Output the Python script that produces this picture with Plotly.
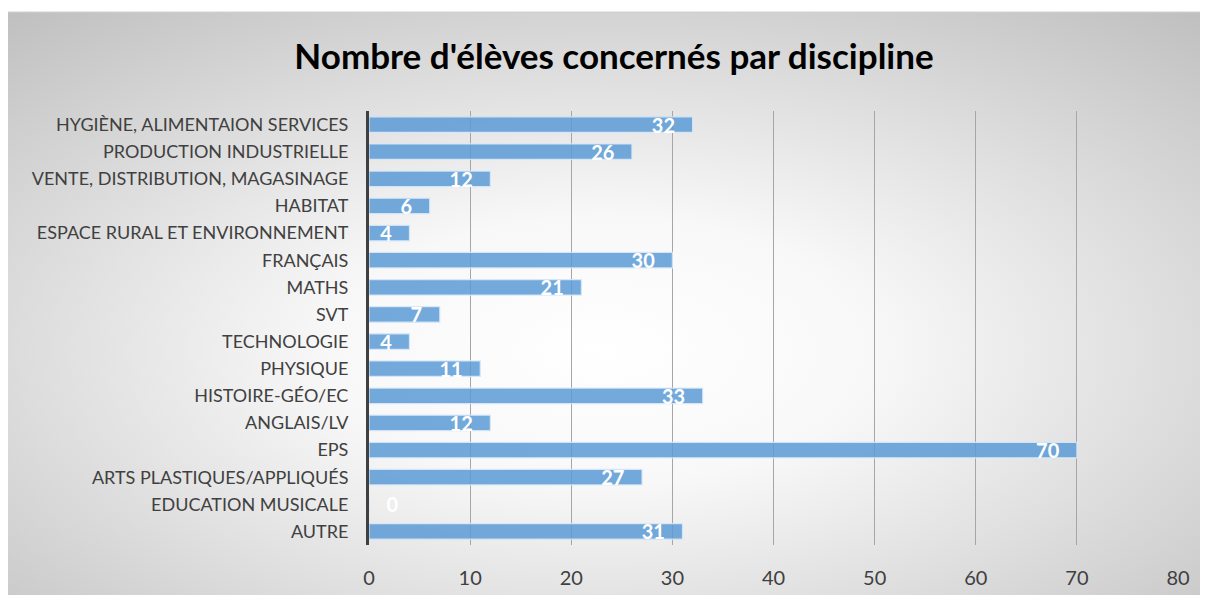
import base64
import plotly.graph_objects as go

# données (ordre de haut en bas)
categories = [
    "HYGIÈNE, ALIMENTAION SERVICES", "PRODUCTION INDUSTRIELLE",
    "VENTE, DISTRIBUTION, MAGASINAGE", "HABITAT",
    "ESPACE RURAL ET ENVIRONNEMENT", "FRANÇAIS", "MATHS", "SVT",
    "TECHNOLOGIE", "PHYSIQUE", "HISTOIRE-GÉO/EC", "ANGLAIS/LV", "EPS",
    "ARTS PLASTIQUES/APPLIQUÉS", "EDUCATION MUSICALE", "AUTRE",
]
values = [32, 26, 12, 6, 4, 30, 21, 7, 4, 11, 33, 12, 70, 27, 0, 31]
x_ticks = [0, 10, 20, 30, 40, 50, 60, 70, 80]

# la page ajoute 8px de marge au body -> figure un peu plus petite
W, H = 1201, 589
L, R, T, B = 361, 31, 103, 52
PW, PH = W - L - R, H - T - B
FONT = "Lato"

# fond en dégradé radial (blanc au centre, gris sur les bords)
svg = (
    '<svg xmlns="http://www.w3.org/2000/svg" width="1192" height="583" '
    'preserveAspectRatio="none" viewBox="0 0 1192 583">'
    '<defs><radialGradient id="g" cx="50%" cy="58%" r="76%">'
    '<stop offset="0" stop-color="#ffffff"/>'
    '<stop offset="0.3" stop-color="#f8f8f8"/>'
    '<stop offset="1" stop-color="#c0c0c0"/>'
    '</radialGradient></defs>'
    '<rect width="1192" height="583" fill="url(#g)"/></svg>'
)
bg_src = "data:image/svg+xml;base64," + base64.b64encode(svg.encode()).decode()

NB = "\u00a0"
labels = [(NB * 3 + "0") if v == 0 else (str(v) + NB * 3) for v in values]
text_pos = ["outside" if v == 0 else "inside" for v in values]

fig = go.Figure(go.Bar(
    x=values, y=categories, orientation="h",
    marker=dict(color="rgba(91,155,213,0.85)",
                line=dict(color="rgba(215,232,250,0.9)", width=1.2)),
    width=0.57,
    text=labels,
    textposition=text_pos,
    insidetextanchor="end",
    textangle=0,
    constraintext="none",
    textfont=dict(family=FONT, size=20, color="white", weight="bold"),
    outsidetextfont=dict(family=FONT, size=20, color="white", weight="bold"),
    cliponaxis=False,
    hoverinfo="skip",
))

box_top = 1 + (T - 4) / PH
fig.update_layout(
    width=W, height=H,
    paper_bgcolor="white", plot_bgcolor="rgba(0,0,0,0)",
    margin=dict(l=L, r=R, t=T, b=B),
    showlegend=False,
    title=dict(text="<b>Nombre d'élèves concernés par discipline</b>",
               x=606 / W, xanchor="center", y=1 - 49 / H, yanchor="middle",
               font=dict(family=FONT, size=35, color="black")),
    images=[dict(source=bg_src, xref="paper", yref="paper",
                 x=-L / PW, y=box_top, sizex=1192 / PW, sizey=583 / PH,
                 xanchor="left", yanchor="top", sizing="stretch",
                 layer="below")],
    shapes=[dict(type="line", xref="paper", yref="paper",
                 x0=-L / PW, x1=(1192 - L) / PW, y0=box_top, y1=box_top,
                 line=dict(color="#d0d0d0", width=1))],
)

fig.update_xaxes(
    range=[0, 80], tickvals=x_ticks, showgrid=True,
    gridcolor="#a6a6a6", gridwidth=1, zeroline=False, showline=False,
    ticks="", ticklabelstandoff=19, automargin=False,
    tickfont=dict(family=FONT, size=20, color="#404040"),
)
fig.update_yaxes(
    autorange="reversed", showgrid=False, showline=True,
    linecolor="#404040", linewidth=3, ticks="", ticklabelstandoff=14,
    automargin=False,
    tickfont=dict(family=FONT, size=18, color="#404040"),
)

fig.write_html("out.html")
